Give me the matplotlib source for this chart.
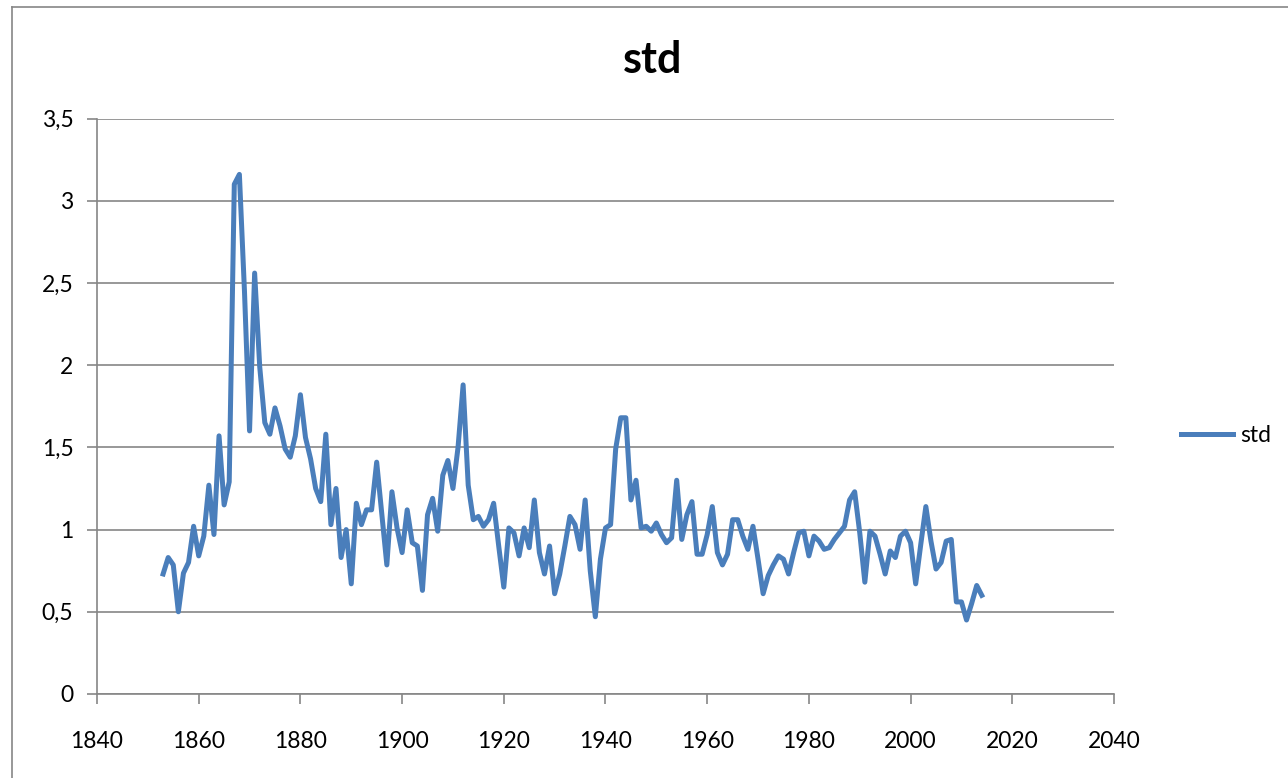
import numpy as np
import matplotlib.pyplot as plt
from matplotlib.lines import Line2D
from matplotlib.ticker import FuncFormatter

plt.rcParams['font.family'] = ['Lato', 'DejaVu Sans']

years = np.arange(1853, 2015)
std = [
    0.73, 0.83, 0.785, 0.50, 0.735, 0.80, 1.02,
    0.84, 0.96, 1.27, 0.97, 1.57, 1.15, 1.29, 3.10, 3.16, 2.45,
    1.60, 2.56, 1.99, 1.65, 1.58, 1.74, 1.63, 1.49, 1.44, 1.57,
    1.82, 1.56, 1.43, 1.25, 1.17, 1.58, 1.03, 1.25, 0.83, 1.00,
    0.67, 1.16, 1.03, 1.12, 1.12, 1.41, 1.10, 0.785, 1.23, 1.01,
    0.86, 1.12, 0.92, 0.90, 0.63, 1.09, 1.19, 0.99, 1.33, 1.42,
    1.25, 1.50, 1.88, 1.27, 1.06, 1.08, 1.02, 1.06, 1.16, 0.90,
    0.65, 1.01, 0.98, 0.84, 1.01, 0.89, 1.18, 0.86, 0.73, 0.90,
    0.61, 0.73, 0.90, 1.08, 1.03, 0.88, 1.18, 0.75, 0.47, 0.82,
    1.01, 1.03, 1.49, 1.68, 1.68, 1.18, 1.30, 1.01, 1.02, 0.99,
    1.04, 0.97, 0.92, 0.95, 1.30, 0.94, 1.09, 1.17, 0.85, 0.85,
    0.97, 1.14, 0.86, 0.785, 0.85, 1.06, 1.06, 0.96, 0.88, 1.02,
    0.82, 0.61, 0.72, 0.785, 0.84, 0.82, 0.73, 0.86, 0.98, 0.99,
    0.84, 0.96, 0.93, 0.88, 0.89, 0.94, 0.98, 1.02, 1.18, 1.23,
    0.98, 0.68, 0.99, 0.96, 0.85, 0.73, 0.87, 0.83, 0.96, 0.99,
    0.92, 0.67, 0.91, 1.14, 0.93, 0.76, 0.80, 0.93, 0.94, 0.56,
    0.56, 0.45, 0.55, 0.66, 0.60,
]
xticks = np.arange(1840, 2041, 20)
yticks = np.arange(0, 3.51, 0.5)

W, H = 1288, 778
fig = plt.figure(figsize=(W / 100, H / 100), dpi=100)
ax = fig.add_axes([97 / W, 1 - 694 / H, (1114 - 97) / W, (694 - 118.5) / H])

grey = '#868686'
ax.plot(years, std, color='#4A7EBB', lw=3.6, solid_joinstyle='round', label='std')

ax.set_xlim(1840, 2040)
ax.set_ylim(0, 3.5)
ax.set_xticks(xticks)
ax.set_yticks(yticks)
ax.yaxis.set_major_formatter(FuncFormatter(lambda v, p: ('%g' % v).replace('.', ',')))
ax.grid(axis='y', color=grey, lw=1.2)
ax.set_axisbelow(True)
for s in ['top', 'right']:
    ax.spines[s].set_visible(False)
for s in ['left', 'bottom']:
    ax.spines[s].set_color(grey)
    ax.spines[s].set_linewidth(1.2)
ax.tick_params(axis='both', colors=grey, length=7, width=1.2, labelsize=16.5,
               labelcolor='black')
ax.tick_params(axis='x', pad=20)
ax.tick_params(axis='y', pad=10)

fig.text(653 / W, 1 - 60 / H, 'std', ha='center', va='center',
         fontsize=31, fontweight='bold')

leg = ax.legend(loc='center left', bbox_to_anchor=(1181 / W, 1 - 436 / H),
                bbox_transform=fig.transFigure, frameon=False, fontsize=16.5,
                borderpad=0, borderaxespad=0, handlelength=2.27, handletextpad=0.3)

# outer chart border
fig.add_artist(Line2D([11.5 / W, 11.5 / W], [0, 1 - 7 / H], color=grey, lw=1.2))
fig.add_artist(Line2D([11.5 / W, 1], [1 - 7 / H, 1 - 7 / H], color=grey, lw=1.2))

fig.savefig('out.png', dpi=100)
